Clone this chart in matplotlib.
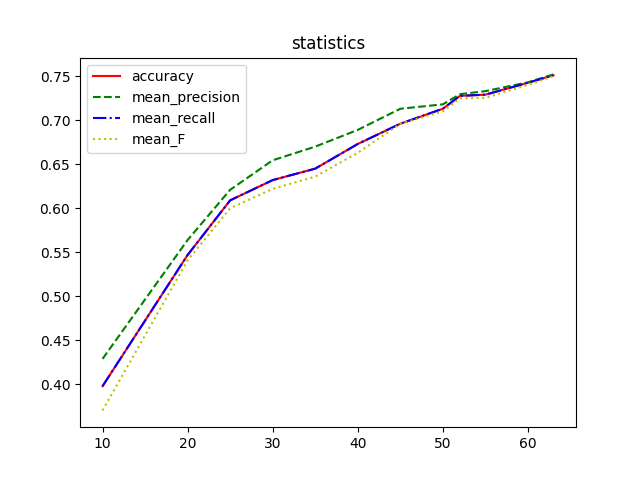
import matplotlib
matplotlib.use("Agg")
import matplotlib.pyplot as plt

x = [10, 20, 25, 30, 35, 40, 45, 50, 52, 55, 60, 63]
accuracy = [0.398, 0.547, 0.609, 0.632, 0.645, 0.673, 0.696, 0.713, 0.7276, 0.729, 0.7425, 0.751]
mean_precision = [0.429, 0.564, 0.621, 0.6545, 0.670, 0.689, 0.713, 0.718, 0.7295, 0.733, 0.743, 0.752]
mean_recall = [0.398, 0.547, 0.609, 0.632, 0.645, 0.673, 0.696, 0.713, 0.7276, 0.729, 0.7425, 0.751]
mean_F = [0.3705, 0.541, 0.600, 0.622, 0.636, 0.663, 0.696, 0.710, 0.7247, 0.7254, 0.740, 0.750]

fig, ax = plt.subplots(figsize=(6.4, 4.8), dpi=100)
ax.plot(x, accuracy, 'r-', label='accuracy')
ax.plot(x, mean_precision, 'g--', label='mean_precision')
ax.plot(x, mean_recall, 'b-.', label='mean_recall')
ax.plot(x, mean_F, 'y:', label='mean_F')
ax.set_title('statistics')
ax.legend(loc='upper left')
fig.savefig('out.png')
